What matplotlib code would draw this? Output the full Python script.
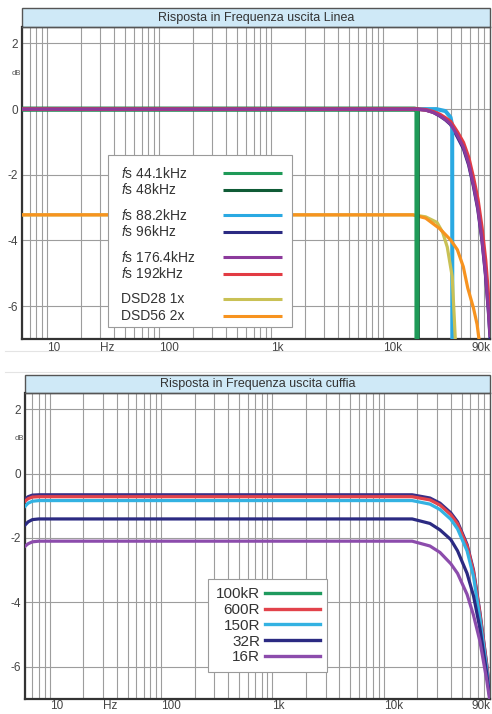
import matplotlib
matplotlib.use("Agg")
import matplotlib.pyplot as plt
from matplotlib.patches import Rectangle
from matplotlib.lines import Line2D
from matplotlib.ticker import NullFormatter
import matplotlib.transforms as mtransforms

plt.rcParams['font.family'] = ['Liberation Sans', 'DejaVu Sans']
plt.rcParams['mathtext.fontset'] = 'custom'
plt.rcParams['mathtext.it'] = 'Liberation Sans:italic'
plt.rcParams['mathtext.rm'] = 'Liberation Sans'

# ---------------- DATA ----------------
# top chart: uscita Linea
line_title = 'Risposta in Frequenza uscita Linea'
line_labels = [r'$f$s 44.1kHz', r'$f$s 48kHz', r'$f$s 88.2kHz', r'$f$s 96kHz',
               r'$f$s 176.4kHz', r'$f$s 192kHz', 'DSD28 1x', 'DSD56 2x']
line_colors = ['#1f9a58', '#0f5b36', '#2aa9e2', '#2b2a82',
               '#8c3a9c', '#e23b43', '#c9c155', '#f7931f']

f_441 = [6, 19000, 20000, 20000]
db_441 = [0, 0, -0.02, -7.5]
f_48 = [6, 19500, 20300, 20300]
db_48 = [0, 0, -0.02, -7.5]
f_882 = [6, 20000, 30000, 36000, 40000, 41400, 41500]
db_882 = [0, 0, 0, -0.06, -0.25, -0.5, -7.5]
f_pcm_hi = [6, 20000, 24000, 28000, 32000, 36000, 40000, 46000, 52000,
            58000, 64000, 70000, 76000, 82000, 87000, 90000]
db_96 = [0, 0, -0.03, -0.1, -0.21, -0.33, -0.47, -0.85, -1.2,
         -1.7, -2.35, -3.05, -3.95, -5.05, -6.15, -6.95]
db_1764 = [0, 0, -0.03, -0.1, -0.2, -0.32, -0.45, -0.8, -1.15,
           -1.65, -2.3, -3.0, -3.9, -5.0, -6.1, -6.9]
db_192 = [0, 0, -0.02, -0.08, -0.16, -0.27, -0.38, -0.7, -1.02,
          -1.48, -2.1, -2.75, -3.6, -4.6, -5.7, -6.5]
f_dsd28 = [6, 18500, 24000, 30300, 34000, 37400, 41400, 43400, 44500]
db_dsd28 = [-3.22, -3.22, -3.28, -3.45, -3.75, -4.2, -5.1, -6.5, -7.3]
f_dsd56 = [6, 18500, 24000, 32000, 40000, 46000, 52000, 57000, 64000, 69000, 73000]
db_dsd56 = [-3.22, -3.22, -3.32, -3.64, -3.98, -4.28, -4.8, -5.45, -6.05, -6.55, -7.2]

# bottom chart: uscita cuffia
hp_title = 'Risposta in Frequenza uscita cuffia'
hp_labels = ['100kR', '600R', '150R', '32R', '16R']
hp_legend_colors = ['#1f9a5e', '#e2434b', '#33b2e2', '#2b2a82', '#8c4cac']
hp_line_colors = ['#3a2f86', '#e2434b', '#33b2e2', '#2b2a82', '#8c4cac']
f_hp = [6, 6.4, 7, 8, 18000, 26000, 32000, 40000, 46000, 56000, 64000, 73000, 84000, 90000]
db_100k = [-0.8, -0.72, -0.67, -0.66, -0.66, -0.76, -0.92, -1.22, -1.5, -2.2, -3.0, -4.3, -5.9, -6.9]
db_600 = [-0.86, -0.78, -0.73, -0.72, -0.72, -0.82, -0.98, -1.28, -1.56, -2.25, -3.05, -4.35, -5.95, -6.9]
db_150 = [-1.02, -0.92, -0.86, -0.84, -0.84, -0.95, -1.12, -1.42, -1.72, -2.4, -3.2, -4.5, -6.05, -6.95]
db_32 = [-1.6, -1.5, -1.43, -1.41, -1.41, -1.55, -1.75, -2.05, -2.4, -3.1, -3.8, -4.8, -6.2, -7.0]
db_16 = [-2.26, -2.18, -2.12, -2.1, -2.1, -2.25, -2.45, -2.8, -3.1, -3.75, -4.4, -5.2, -6.4, -7.1]

grid_freqs = [m * 10 ** e for e in range(0, 5) for m in range(1, 10)]
xtick_pos = [10, 30, 100, 1000, 10000, 90000]
xtick_labels = ['10', 'Hz', '100', '1k', '10k', '90k']
ytick_pos = [2, 0, -2, -4, -6]
ytick_labels = ['2', '0', '-2', '-4', '-6']

W, H = 492, 714
fig = plt.figure(figsize=(W / 100, H / 100), dpi=100)
fig.patch.set_facecolor('white')


def setup(ax, title, band_px, height_px, xpad):
    ax.set_xscale('log')
    ax.set_xlim(6, 90000)
    ax.set_ylim(-7, 2.5)
    ax.set_xticks(xtick_pos)
    ax.set_xticklabels(xtick_labels)
    ax.set_xticks([f for f in grid_freqs if 6 <= f <= 90000], minor=True)
    ax.xaxis.set_minor_formatter(NullFormatter())
    ax.set_yticks(ytick_pos)
    ax.set_yticklabels(ytick_labels)
    ax.grid(True, which='both', axis='x', color='#9d9d9d', lw=0.8)
    ax.grid(True, which='major', axis='y', color='#9d9d9d', lw=0.8)
    ax.set_axisbelow(True)
    ax.tick_params(which='both', length=0, labelsize=8.5, labelcolor='#444')
    ax.tick_params(axis='y', pad=3)
    ax.tick_params(axis='x', pad=xpad)
    labs = ax.get_xticklabels()
    for lb in labs:
        lb.set_ha('left')
    labs[-1].set_ha('right')
    for side in ['left', 'bottom']:
        ax.spines[side].set_color('#333')
        ax.spines[side].set_linewidth(1.6)
    for side in ['right', 'top']:
        ax.spines[side].set_color('#555')
        ax.spines[side].set_linewidth(1.0)
    bh = band_px / height_px
    ax.add_patch(Rectangle((0, 1), 1, bh, transform=ax.transAxes, clip_on=False,
                           facecolor='#cfe9f7', edgecolor='#555', lw=1.0))
    ax.text(0.5, 1 + bh / 2, title, transform=ax.transAxes, ha='center', va='center',
            fontsize=9, color='#333')
    trans = mtransforms.blended_transform_factory(ax.transAxes, ax.transData)
    ax.text(-0.013, 1.08, 'dB', transform=trans, ha='center', va='center',
            fontsize=5.5, color='#555')


# ---------------- top chart ----------------
ax1 = fig.add_axes([22 / W, 375 / H, 468 / W, 312 / H])
setup(ax1, line_title, 19, 312, 2.5)
lw = 2.3
ax1.plot(f_pcm_hi, db_96, color=line_colors[3], lw=lw, zorder=3)
ax1.plot(f_882, db_882, color=line_colors[2], lw=lw + 0.6, zorder=4)
ax1.plot(f_dsd28, db_dsd28, color=line_colors[6], lw=lw, zorder=5)
ax1.plot(f_dsd56, db_dsd56, color=line_colors[7], lw=lw, zorder=6)
ax1.plot(f_48, db_48, color=line_colors[1], lw=3.4, zorder=7)
ax1.plot(f_441, db_441, color=line_colors[0], lw=3.4, zorder=8)
ax1.plot(f_pcm_hi, db_192, color=line_colors[5], lw=lw + 0.4, zorder=9)
ax1.plot(f_pcm_hi, db_1764, color=line_colors[4], lw=lw, zorder=10)

# legend, text left and key lines on the right, pairs separated by a gap
ax1.add_patch(Rectangle((0.184, 0.038), 0.393, 0.552, transform=ax1.transAxes,
                        facecolor='white', edgecolor='#9a9a9a', lw=0.8, zorder=20))
for i, (lab, col) in enumerate(zip(line_labels, line_colors)):
    y_px = 173 + 17 * i + 8 * (i // 2)
    yf = (339 - y_px) / 312
    ax1.text(0.2115, yf, lab, transform=ax1.transAxes, fontsize=10, ha='left',
             va='center', color='#333', zorder=21)
    ax1.add_line(Line2D([0.4295, 0.5556], [yf, yf], transform=ax1.transAxes,
                        color=col, lw=2.2, solid_capstyle='butt', zorder=21))

# ---------------- bottom chart ----------------
ax2 = fig.add_axes([25 / W, 15 / H, 465 / W, 306 / H])
setup(ax2, hp_title, 18, 306, 0.8)
for db, col, z in zip([db_100k, db_600, db_150, db_32, db_16], hp_line_colors, [3, 4, 5, 6, 7]):
    ax2.plot(f_hp, db, color=col, lw=2.3, zorder=z)

handles = [Line2D([], [], color=c, lw=2.4) for c in hp_legend_colors]
leg = ax2.legend(handles, hp_labels, loc='lower left', bbox_to_anchor=(0.394, 0.088),
                 borderaxespad=0, fontsize=11, markerfirst=False, handlelength=3.6,
                 handletextpad=0.3, labelspacing=0.12, borderpad=0.5,
                 fancybox=False, framealpha=1, edgecolor='#9a9a9a')
leg.get_frame().set_linewidth(0.8)
for t in leg.get_texts():
    t.set_color('#333')

# faint page lines between the two charts
for yp in [351, 372]:
    fig.add_artist(Line2D([0.01, 0.995], [1 - yp / H] * 2, color='#e4e4e4', lw=0.8))

fig.savefig('out.png', dpi=100)
